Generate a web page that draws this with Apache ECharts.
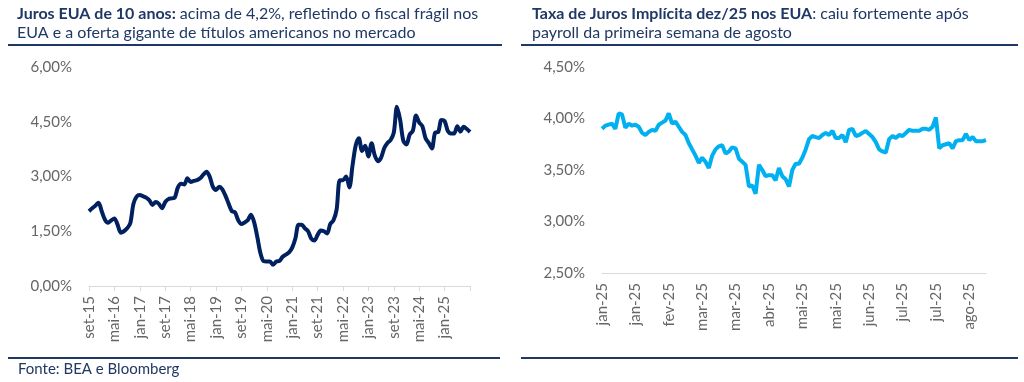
<!DOCTYPE html>
<html>
<head>
<meta charset="utf-8">
<script src="https://cdn.jsdelivr.net/npm/echarts@6/dist/echarts.min.js"></script>
<style>
html,body{margin:0;padding:0;background:#fff;}
#c{width:1024px;height:382px;}
</style>
</head>
<body>
<div id="c"></div>
<script>
// ---------- DATA ----------
// Left: 10y US Treasury yield (%), monthly, from set-15 to set-25
const monthNames = ['jan','fev','mar','abr','mai','jun','jul','ago','set','out','nov','dez'];
const leftStart = {year: 2015, month: 8}; // set-15 (0-based month)
const yield10y = [
  2.05, 2.13, 2.20, 2.28, 2.05, 1.82, 1.73, 1.80, 1.85, 1.68,
  1.46, 1.50, 1.58, 1.72, 2.25, 2.45, 2.49, 2.46, 2.42, 2.35,
  2.22, 2.30, 2.25, 2.13, 2.30, 2.38, 2.40, 2.42, 2.70, 2.80,
  2.78, 2.95, 2.85, 2.88, 2.90, 2.95, 3.05, 3.13, 3.00, 2.72,
  2.63, 2.72, 2.65, 2.47, 2.25, 2.05, 2.02, 1.80, 1.70, 1.74,
  1.80, 1.95, 1.75, 1.35, 0.90, 0.68, 0.67, 0.67, 0.58, 0.67,
  0.69, 0.80, 0.86, 0.92, 1.05, 1.30, 1.68, 1.68, 1.58, 1.50,
  1.30, 1.25, 1.40, 1.52, 1.50, 1.44, 1.70, 1.80, 2.10, 2.90,
  2.90, 3.00, 2.70, 3.30, 3.85, 4.05, 3.70, 3.84, 3.55, 3.91,
  3.58, 3.42, 3.52, 3.78, 3.92, 4.00, 4.20, 4.91, 4.55, 3.98,
  3.88, 4.15, 4.25, 4.67, 4.48, 4.38, 4.05, 3.92, 3.77, 4.20,
  4.22, 4.55, 4.52, 4.25, 4.18, 4.18, 4.38, 4.23, 4.36, 4.30,
  4.22
];
// Right: implied Fed funds rate for dec/25 (%), every 2 days from 2025-01-02
const rightStart = '2025-01-02';
const rightStepDays = 2;
const impliedDec25 = [
  3.90, 3.93, 3.94, 3.95, 3.90, 4.05, 4.04, 3.91, 3.95, 3.93,
  3.94, 3.92, 3.86, 3.84, 3.87, 3.89, 3.88, 3.94, 3.96, 3.98,
  4.05, 3.95, 3.97, 3.92, 3.87, 3.84, 3.76, 3.70, 3.64, 3.57,
  3.62, 3.58, 3.52, 3.64, 3.70, 3.73, 3.74, 3.66, 3.68, 3.72,
  3.71, 3.61, 3.58, 3.55, 3.34, 3.35, 3.27, 3.55, 3.50, 3.44,
  3.45, 3.45, 3.40, 3.52, 3.44, 3.41, 3.34, 3.50, 3.56, 3.56,
  3.62, 3.70, 3.80, 3.83, 3.82, 3.81, 3.84, 3.86, 3.84, 3.88,
  3.81, 3.81, 3.84, 3.77, 3.89, 3.90, 3.83, 3.84, 3.86, 3.88,
  3.85, 3.82, 3.77, 3.70, 3.68, 3.67, 3.80, 3.83, 3.81, 3.84,
  3.83, 3.86, 3.89, 3.88, 3.88, 3.88, 3.90, 3.90, 3.89, 3.92,
  4.01, 3.71, 3.74, 3.75, 3.76, 3.71, 3.78, 3.79, 3.79, 3.85,
  3.79, 3.82, 3.78, 3.78, 3.78, 3.79
];
const leftYTicks = {min: 0, max: 6, interval: 1.5};
const rightYTicks = {min: 2.5, max: 4.5, interval: 0.5};
const leftTitleBold = 'Juros EUA de 10 anos:';
const leftTitleRest1 = ' acima de 4,2%, refletindo o fiscal frágil nos';
const leftTitleLine2 = 'EUA e a oferta gigante de títulos americanos no mercado';
const rightTitleBold = 'Taxa de Juros Implícita dez/25 nos EUA';
const rightTitleRest1 = ': caiu fortemente após';
const rightTitleLine2 = 'payroll da primeira semana de agosto';
const sourceText = 'Fonte: BEA e Bloomberg';

// ---------- CATEGORIES ----------
const leftCats = yield10y.map((_, i) => {
  const m = leftStart.month + i;
  const y = leftStart.year + Math.floor(m / 12);
  return monthNames[m % 12] + '-' + String(y).slice(2);
});
const rightCats = impliedDec25.map((_, i) => {
  const d = new Date(rightStart + 'T00:00:00Z');
  d.setUTCDate(d.getUTCDate() + i * rightStepDays);
  return monthNames[d.getUTCMonth()] + '-' + String(d.getUTCFullYear()).slice(2);
});

const FONT = 'Lato';
const NAVY = '#1F3864';
const GRAY = '#666666';
const pct = v => v.toFixed(2).replace('.', ',') + '%';

const chart = echarts.init(document.getElementById('c'), null, {renderer: 'canvas'});
const titleRich = {
  b: {fontFamily: FONT, fontSize: 16, fontWeight: 'bold', color: NAVY, lineHeight: 19},
  n: {fontFamily: FONT, fontSize: 16, fontWeight: 'normal', color: NAVY, lineHeight: 19}
};
chart.setOption({
  animation: false,
  backgroundColor: '#fff',
  title: [
    {left: 17, top: 4, text: '{b|' + leftTitleBold + '}{n|' + leftTitleRest1 + '}\n{n|' + leftTitleLine2 + '}',
     textStyle: {rich: titleRich, fontWeight: 'normal'}, padding: 0},
    {left: 532, top: 4, text: '{b|' + rightTitleBold + '}{n|' + rightTitleRest1 + '}\n{n|' + rightTitleLine2 + '}',
     textStyle: {rich: titleRich, fontWeight: 'normal'}, padding: 0},
    {left: 18, top: 362, text: sourceText, padding: 0,
     textStyle: {fontFamily: FONT, fontSize: 15, fontWeight: 'normal', color: NAVY}}
  ],
  graphic: [
    {type: 'line', shape: {x1: 8, y1: 45, x2: 502, y2: 45}, style: {stroke: NAVY, lineWidth: 2}},
    {type: 'line', shape: {x1: 521, y1: 45, x2: 1018, y2: 45}, style: {stroke: NAVY, lineWidth: 2}},
    {type: 'line', shape: {x1: 8, y1: 358, x2: 500, y2: 358}, style: {stroke: NAVY, lineWidth: 2}},
    {type: 'line', shape: {x1: 521, y1: 358, x2: 1018, y2: 358}, style: {stroke: NAVY, lineWidth: 2}}
  ],
  grid: [
    {left: 89, right: 554, top: 67, bottom: 96, containLabel: false},
    {left: 602, right: 38, top: 67, bottom: 109, containLabel: false}
  ],
  xAxis: [
    {gridIndex: 0, type: 'category', data: leftCats, boundaryGap: false,
     axisLine: {lineStyle: {color: '#D9D9D9', width: 1}},
     axisTick: {show: true, interval: 7, length: 5, lineStyle: {color: '#D9D9D9'}},
     axisLabel: {interval: 7, rotate: 90, margin: 10, color: GRAY, fontFamily: FONT, fontSize: 15,
       formatter: (v, i) => i === leftCats.length - 1 ? '' : v},
     splitLine: {show: false}},
    {gridIndex: 1, type: 'category', data: rightCats, boundaryGap: false,
     axisLine: {lineStyle: {color: '#D9D9D9', width: 1}},
     axisTick: {show: false},
     axisLabel: {interval: 9, rotate: 90, margin: 10, color: GRAY, fontFamily: FONT, fontSize: 15},
     splitLine: {show: false}}
  ],
  yAxis: [
    {gridIndex: 0, type: 'value', min: leftYTicks.min, max: leftYTicks.max, interval: leftYTicks.interval,
     axisLine: {show: false}, axisTick: {show: false}, splitLine: {show: false},
     axisLabel: {formatter: pct, color: GRAY, fontFamily: FONT, fontSize: 15, margin: 17}},
    {gridIndex: 1, type: 'value', min: rightYTicks.min, max: rightYTicks.max, interval: rightYTicks.interval,
     axisLine: {show: false}, axisTick: {show: false}, splitLine: {show: false},
     axisLabel: {formatter: pct, color: GRAY, fontFamily: FONT, fontSize: 15, margin: 17}}
  ],
  series: [
    {type: 'line', xAxisIndex: 0, yAxisIndex: 0, data: yield10y, showSymbol: false, smooth: 0.3,
     lineStyle: {color: '#002060', width: 4}, itemStyle: {color: '#002060'}},
    {type: 'line', xAxisIndex: 1, yAxisIndex: 1, data: impliedDec25, showSymbol: false,
     lineStyle: {color: '#00B0F0', width: 4}, itemStyle: {color: '#00B0F0'}}
  ]
});
</script>
</body>
</html>
